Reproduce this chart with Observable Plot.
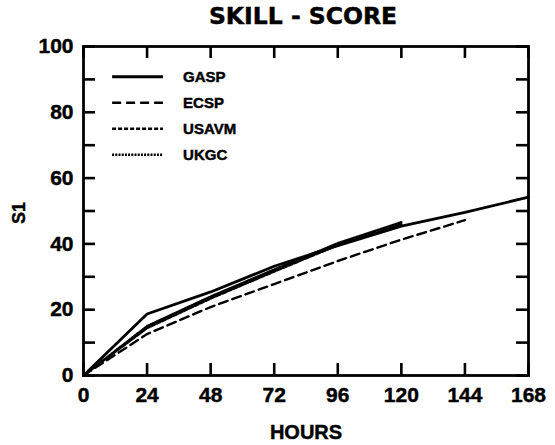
<!DOCTYPE html>
<html><head><meta charset="utf-8">
<style>
html,body{margin:0;padding:0;background:#fff}
svg{display:block}
#chart svg text{stroke:#000;stroke-width:0.45px;paint-order:stroke}
</style>
<script src="https://cdn.jsdelivr.net/npm/d3@7"></script>
<script src="https://cdn.jsdelivr.net/npm/@observablehq/plot@0.6"></script>
</head><body><div id="chart"></div>
<script>
// ---- data ----
const hours = [0, 24, 48, 72, 96, 120, 144, 168];
const seriesNames = ["GASP", "ECSP", "USAVM", "UKGC"];
const gaspValues  = [0, 18.7, 25.4, 33.2, 39.5, 45.4, 49.6, 54.2];
const ecspValues  = [0, 12.6, 20.8, 27.8, 34.8, 41.3, 47.2];
const usavmValues = [0, 14.4, 23.4, 31.6, 39.6, 46.0];
const ukgcValues  = [0, 15.0, 24.0, 32.2, 40.2, 46.6];
const xTicks = [0, 24, 48, 72, 96, 120, 144, 168];
const yMinorTicks = [0, 10, 20, 30, 40, 50, 60, 70, 80, 90, 100];
const yTickLabels = [0, 20, 40, 60, 80, 100];
const titleText = "SKILL - SCORE";
const xLabelText = "HOURS";
const yLabelText = "S1";

// ---- layout / styles ----
const W = 555, H = 445;
const M = {top: 46, right: 27, bottom: 70, left: 83};
const innerW = W - M.left - M.right, innerH = H - M.top - M.bottom;
const tickLen = 12;
const styles = {
  GASP:  {dash: null,    width: 2.8},
  ECSP:  {dash: "9,5",   width: 2.4},
  USAVM: {dash: "4,2",   width: 2.4},
  UKGC:  {dash: "2,1.2", width: 2.4}
};
const valuesBy = {GASP: gaspValues, ECSP: ecspValues, USAVM: usavmValues, UKGC: ukgcValues};
const rows = seriesNames.flatMap(name => valuesBy[name].map((v, i) => ({name, hour: hours[i], value: v})));

// legend placement (in chart units)
const legend = {x1: 10.8, x2: 30, labelX: 37.6, top: 90.8, step: 7.9};
const legendRows = seriesNames.map((name, i) => ({name, y: legend.top - i * legend.step}));

const font = "'Liberation Sans', Arial, Helvetica, sans-serif";
const titleFont = "'DejaVu Sans', 'Liberation Sans', sans-serif";

const lineMarks = seriesNames.map(name => Plot.line(rows.filter(d => d.name === name), {
  x: "hour", y: "value", stroke: "black",
  strokeWidth: styles[name].width, strokeDasharray: styles[name].dash
}));
const legendMarks = legendRows.map(d => Plot.link([d], {
  x1: () => legend.x1, x2: () => legend.x2, y1: "y", y2: "y", stroke: "black",
  strokeWidth: styles[d.name].width, strokeDasharray: styles[d.name].dash
}));

const chart = Plot.plot({
  width: W, height: H,
  marginTop: M.top, marginRight: M.right, marginBottom: M.bottom, marginLeft: M.left,
  x: {domain: [0, 168]},
  y: {domain: [0, 100]},
  style: {fontFamily: font, fontWeight: "bold", color: "black", background: "white"},
  marks: [
    Plot.tickX(xTicks, {x: d => d, insetTop: innerH - tickLen, stroke: "black", strokeWidth: 2.6}),
    Plot.tickX(xTicks, {x: d => d, insetBottom: innerH - tickLen, stroke: "black", strokeWidth: 2.6}),
    Plot.tickY(yMinorTicks, {y: d => d, insetRight: innerW - tickLen, stroke: "black", strokeWidth: 2.6}),
    Plot.tickY(yMinorTicks, {y: d => d, insetLeft: innerW - tickLen, stroke: "black", strokeWidth: 2.6}),
    Plot.frame({stroke: "black", strokeWidth: 2.8}),
    Plot.axisX(xTicks, {tickSize: 0, tickPadding: 11.5, fontSize: 21, fontWeight: "bold", label: null}),
    Plot.axisY(yTickLabels, {tickSize: 0, tickPadding: 10, fontSize: 21, fontWeight: "bold", label: null}),
    ...lineMarks,
    ...legendMarks,
    Plot.text(legendRows, {x: () => legend.labelX, y: "y", text: "name", textAnchor: "start", fontSize: 15, fontWeight: "bold", fill: "black"}),
    Plot.text([titleText], {frameAnchor: "top", lineAnchor: "middle", dy: -30, dx: -3, fontSize: 23.5, fontWeight: "bold", fontFamily: titleFont, fill: "black"}),
    Plot.text([yLabelText], {frameAnchor: "left", dx: -64, dy: 2, rotate: -90, textAnchor: "middle", fontSize: 17.5, fontWeight: "bold", fill: "black"}),
    Plot.text([xLabelText], {frameAnchor: "bottom", lineAnchor: "middle", dy: 57.5, fontSize: 20, fontWeight: "bold", fill: "black"})
  ]
});
document.getElementById("chart").appendChild(chart);
</script>
</body></html>
